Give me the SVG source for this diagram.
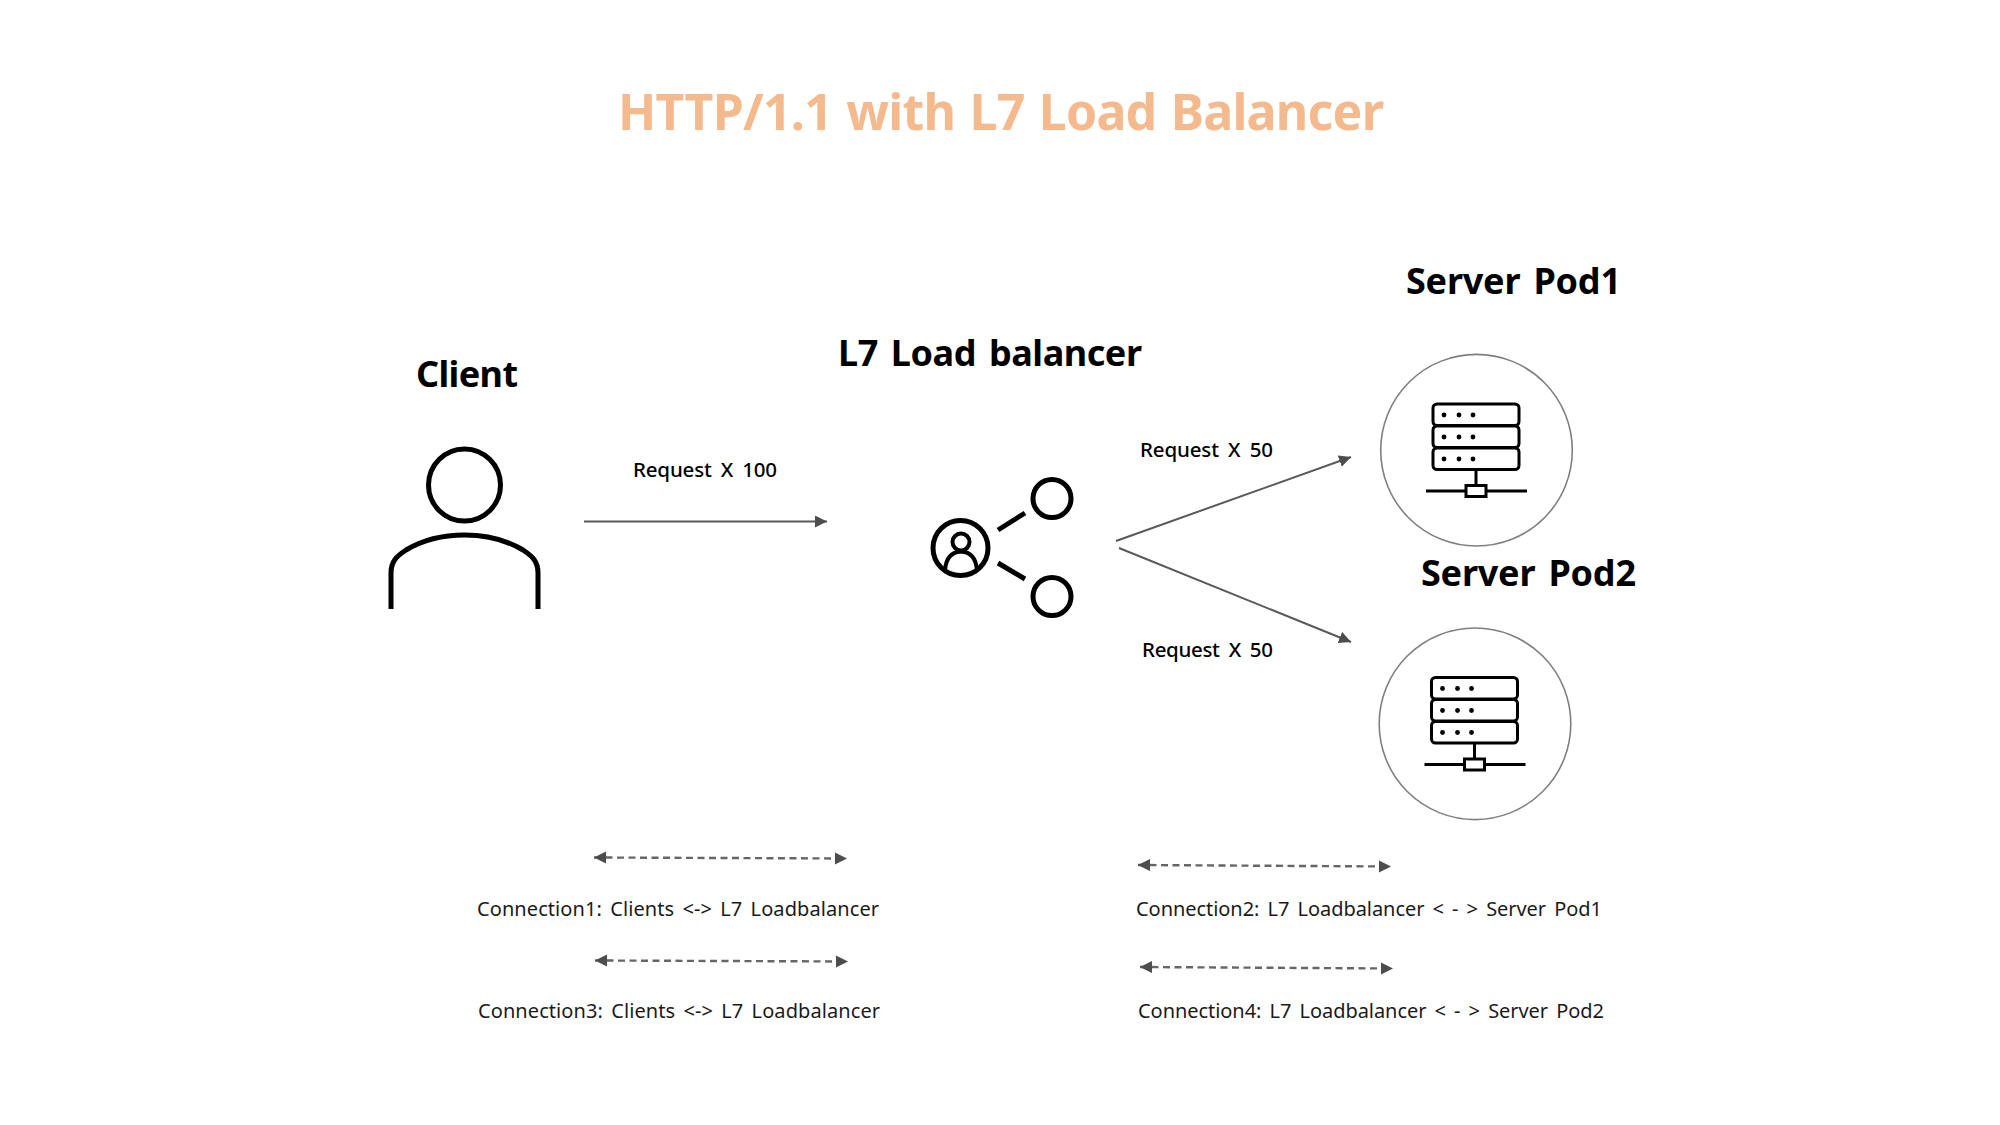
<svg xmlns="http://www.w3.org/2000/svg" xmlns:xlink="http://www.w3.org/1999/xlink" width="2000" height="1125" viewBox="0 0 2000 1125">
<style>
text{font-family:"Noto Sans","Noto Sans CJK KR","Liberation Sans",sans-serif;fill:#000}
.title{font-size:50px;font-weight:700;fill:#f4b98c;word-spacing:2px}
.head{font-size:36px;font-weight:700;word-spacing:4px}
.req{font-size:20.5px;font-weight:500;word-spacing:4px}
.conn{font-size:20px;font-weight:400;fill:#1a1a1a;word-spacing:3px}
.ic{fill:none;stroke:#000;stroke-width:5}
.ic2{fill:none;stroke:#000;stroke-width:3}
.pod{fill:#fff;stroke:#7f7f7f;stroke-width:1.6}
.a{fill:none;stroke:#595959;stroke-width:2}
.d{fill:none;stroke:#666;stroke-width:2.4;stroke-dasharray:7 4.5}
.dot{fill:#000}
</style>
<defs>
<marker id="arr" markerUnits="userSpaceOnUse" markerWidth="14" markerHeight="14" refX="12" refY="6" orient="auto-start-reverse"><path d="M0 0L12 6L0 12Z" fill="#4d4d4d"/></marker>
<g id="rack">
<rect class="ic2" x="1433" y="404" width="86" height="21.5" rx="4"/>
<rect class="ic2" x="1433" y="426" width="86" height="21.5" rx="4"/>
<rect class="ic2" x="1433" y="448" width="86" height="21.5" rx="4"/>
<g class="dot"><circle cx="1444" cy="415" r="2.4"/><circle cx="1459" cy="415" r="2.4"/><circle cx="1473" cy="415" r="2.4"/><circle cx="1444" cy="437" r="2.4"/><circle cx="1459" cy="437" r="2.4"/><circle cx="1473" cy="437" r="2.4"/><circle cx="1444" cy="459" r="2.4"/><circle cx="1459" cy="459" r="2.4"/><circle cx="1473" cy="459" r="2.4"/></g>
<path class="ic2" d="M1476 470V485M1426 491H1466M1486 491H1527"/>
<rect class="ic2" x="1466" y="485.500" width="20" height="11"/>
</g>
</defs>
<rect width="2000" height="1125" fill="#fff"/>
<text id="title" class="title" x="618" y="130" textLength="766" lengthAdjust="spacing">HTTP/1.1 with L7 Load Balancer</text>
<g id="client">
<text class="head" x="416" y="387" textLength="102" lengthAdjust="spacing">Client</text>
<circle class="ic" cx="464.500" cy="485" r="36"/>
<path class="ic" d="M391 609V573C391 561 397 556 406 550C426 538 445 535 464.500 535C484 535 503 538 523 550C532 556 538 561 538 573V609"/>
</g>
<g id="load-balancer">
<text class="head" x="838" y="366" textLength="304" lengthAdjust="spacing">L7 Load balancer</text>
<circle class="ic" cx="960.500" cy="548" r="27.500"/>
<circle cx="961" cy="542" r="8.500" fill="none" stroke="#000" stroke-width="4"/>
<path d="M945 570C946 558 952 552 961 551.500C970 552 976 558 977 570" fill="none" stroke="#000" stroke-width="4"/>
<circle class="ic" cx="1052" cy="498.500" r="19"/>
<circle class="ic" cx="1052" cy="596.500" r="19"/>
<path class="ic" d="M998 530L1025 513M998 563L1025 579"/>
</g>
<g id="server-pod1">
<text class="head" x="1406" y="294" textLength="215" lengthAdjust="spacing">Server Pod1</text>
<circle class="pod" cx="1476.500" cy="450.200" r="95.800"/>
<use xlink:href="#rack" href="#rack"/>
</g>
<g id="server-pod2">
<text class="head" x="1421" y="586" textLength="215" lengthAdjust="spacing">Server Pod2</text>
<circle class="pod" cx="1475" cy="723.800" r="95.800"/>
<use xlink:href="#rack" href="#rack" x="-1.500" y="273.500"/>
</g>
<g id="connectors">
<path class="a" marker-end="url(#arr)" d="M584 521.500H827"/>
<path class="a" marker-end="url(#arr)" d="M1116 541L1351 457"/>
<path class="a" marker-end="url(#arr)" d="M1119 548L1351 642"/>
<path class="d" marker-start="url(#arr)" marker-end="url(#arr)" d="M594 857.500L847 858.500"/>
<path class="d" marker-start="url(#arr)" marker-end="url(#arr)" d="M595 960.500L848 961.500"/>
<path class="d" marker-start="url(#arr)" marker-end="url(#arr)" d="M1138 865L1391 866.500"/>
<path class="d" marker-start="url(#arr)" marker-end="url(#arr)" d="M1140 967L1393 968.500"/>
</g>
<g id="labels">
<text class="req" x="633" y="477" textLength="144" lengthAdjust="spacing">Request X 100</text>
<text class="req" x="1140" y="456.500" textLength="133" lengthAdjust="spacing">Request X 50</text>
<text class="req" x="1142" y="656.500" textLength="131" lengthAdjust="spacing">Request X 50</text>
<text class="conn" x="477" y="916" textLength="402" lengthAdjust="spacing">Connection1: Clients &lt;-&gt; L7 Loadbalancer</text>
<text class="conn" x="478" y="1017.500" textLength="402" lengthAdjust="spacing">Connection3: Clients &lt;-&gt; L7 Loadbalancer</text>
<text class="conn" x="1136" y="916" textLength="466" lengthAdjust="spacing">Connection2: L7 Loadbalancer &lt; - &gt; Server Pod1</text>
<text class="conn" x="1138" y="1017.500" textLength="466" lengthAdjust="spacing">Connection4: L7 Loadbalancer &lt; - &gt; Server Pod2</text>
</g>
</svg>
